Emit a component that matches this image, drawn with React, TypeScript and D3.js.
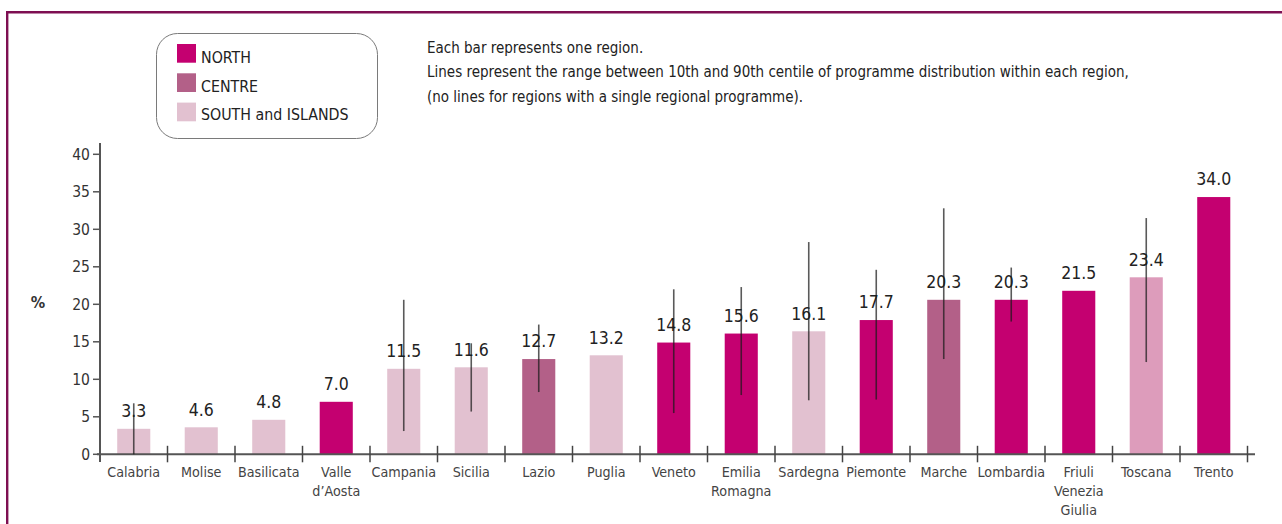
import React from "react";
import * as d3 from "d3";

const regions = [
  "Calabria", "Molise", "Basilicata", "Valle\nd’Aosta", "Campania", "Sicilia", "Lazio", "Puglia",
  "Veneto", "Emilia\nRomagna", "Sardegna", "Piemonte", "Marche", "Lombardia", "Friuli\nVenezia\nGiulia",
  "Toscana", "Trento",
];
const groups = [
  "SOUTH", "SOUTH", "SOUTH", "NORTH", "SOUTH", "SOUTH", "CENTRE", "SOUTH",
  "NORTH", "NORTH", "SOUTH", "NORTH", "CENTRE", "NORTH", "NORTH", "CENTRE_ALT", "NORTH",
];
// printed values
const shares = [3.3, 4.6, 4.8, 7.0, 11.5, 11.6, 12.7, 13.2, 14.8, 15.6, 16.1, 17.7, 20.3, 20.3, 21.5, 23.4, 34.0];
// bar lengths as drawn in the picture
const barHeights = [3.4, 3.6, 4.6, 7.0, 11.4, 11.6, 12.7, 13.2, 14.9, 16.1, 16.4, 17.9, 20.6, 20.6, 21.8, 23.6, 34.3];
// 10th and 90th centile (null = single programme)
const p10: (number | null)[] = [0, null, null, null, 3.1, 5.7, 8.3, null, 5.5, 7.9, 7.2, 7.3, 12.7, 17.7, null, 12.3, null];
const p90: (number | null)[] = [6.8, null, null, null, 20.6, 14.8, 17.3, null, 22.0, 22.3, 28.3, 24.6, 32.8, 24.9, null, 31.5, null];
const yTicks = [0, 5, 10, 15, 20, 25, 30, 35, 40];
const legendItems = [
  { key: "NORTH", label: "NORTH" },
  { key: "CENTRE", label: "CENTRE" },
  { key: "SOUTH", label: "SOUTH and ISLANDS" },
];
const notes = [
  "Each bar represents one region.",
  "Lines represent the range between 10th and 90th centile of programme distribution within each region,",
  "(no lines for regions with a single regional programme).",
];

const FONT = "'Liberation Sans Narrow', 'DejaVu Sans Condensed', 'Liberation Sans', sans-serif";

export default function App() {
  const W = 1282, H = 524;
  const x = d3.scaleBand<number>()
    .domain(d3.range(regions.length))
    .range([100, 1247.5])
    .paddingInner(0.51)
    .paddingOuter(0.255);
  const y = d3.scaleLinear().domain([0, 40]).range([454.3, 154.3]);
  const color = d3.scaleOrdinal<string, string>()
    .domain(["NORTH", "CENTRE", "SOUTH", "CENTRE_ALT"])
    .range(["#C40070", "#B36088", "#E2C1D0", "#DD9CBB"]);
  const step = x.step();
  const bw = x.bandwidth();
  const boundaries = d3.range(1, regions.length + 1).map((k) => (x(k - 1) as number) + bw + step * 0.255);

  return (
    <svg width={W} height={H} style={{ position: "absolute", left: 0, top: 0, fontFamily: FONT }}>
      <rect x={0} y={0} width={W} height={H} fill="#fff" />
      {/* frame */}
      <line x1={7.2} x2={W} y1={12.2} y2={12.2} stroke="#7E0F52" strokeWidth={2.4} />
      <line x1={7.2} x2={7.2} y1={11} y2={H} stroke="#7E0F52" strokeWidth={2.4} />

      {/* legend */}
      <rect x={156.5} y={33.5} width={221} height={105} rx={21} ry={21} fill="none" stroke="#7a7a7a" strokeWidth={1} />
      {legendItems.map((it, i) => (
        <g key={it.key}>
          <rect x={177} y={44 + i * 29.3} width={19} height={18.7} fill={color(it.key)} />
          <text x={201} y={63 + i * 28.7} fontSize={15.8} fill="#222">{it.label}</text>
        </g>
      ))}

      {/* notes */}
      {notes.map((t, i) => (
        <text key={i} x={427} y={53 + i * 24.3} fontSize={15} fill="#222">{t}</text>
      ))}

      {/* y axis */}
      <line x1={100} x2={100} y1={143} y2={462} stroke="#555" strokeWidth={2} />
      {yTicks.map((t) => (
        <g key={t}>
          <line x1={93} x2={100} y1={y(t)} y2={y(t)} stroke="#555" strokeWidth={1.5} />
          <text x={90} y={y(t)} dy="0.36em" textAnchor="end" fontSize={15.5} fill="#333">{t}</text>
        </g>
      ))}
      <text x={38} y={302} dy="0.36em" textAnchor="middle" fontSize={16} fontWeight="bold" fill="#333">%</text>

      {/* bars */}
      {barHeights.map((v, i) => (
        <rect key={i} x={x(i)} y={y(v)} width={bw} height={y(0) - y(v)} fill={color(groups[i])} />
      ))}

      {/* x axis */}
      <line x1={97} x2={1255} y1={y(0)} y2={y(0)} stroke="#555" strokeWidth={2} />
      {boundaries.map((b, k) => (
        <line key={k} x1={b} x2={b} y1={y(0) - 8.5} y2={y(0) + 8} stroke="#444" strokeWidth={1.5} />
      ))}
      {regions.map((r, i) => (
        <text key={i} x={(x(i) as number) + bw / 2} y={477} textAnchor="middle" fontSize={14.2} fill="#444">
          {r.split("\n").map((ln, j) => (
            <tspan key={j} x={(x(i) as number) + bw / 2} dy={j === 0 ? 0 : 19}>{ln}</tspan>
          ))}
        </text>
      ))}

      {/* value labels */}
      {shares.map((v, i) => (
        <text key={i} x={(x(i) as number) + bw / 2} y={y(barHeights[i]) - 18} dy="0.36em" textAnchor="middle" fontSize={17.5} fill="#222">
          {v.toFixed(1)}
        </text>
      ))}

      {/* centile lines */}
      {p10.map((lo, i) => {
        const hi = p90[i];
        if (lo === null || hi === null) return null;
        const cx = (x(i) as number) + bw / 2;
        return <line key={i} x1={cx} x2={cx} y1={y(hi)} y2={y(lo)} stroke="#1a1a1a" strokeOpacity={0.72} strokeWidth={1.6} />;
      })}
    </svg>
  );
}
